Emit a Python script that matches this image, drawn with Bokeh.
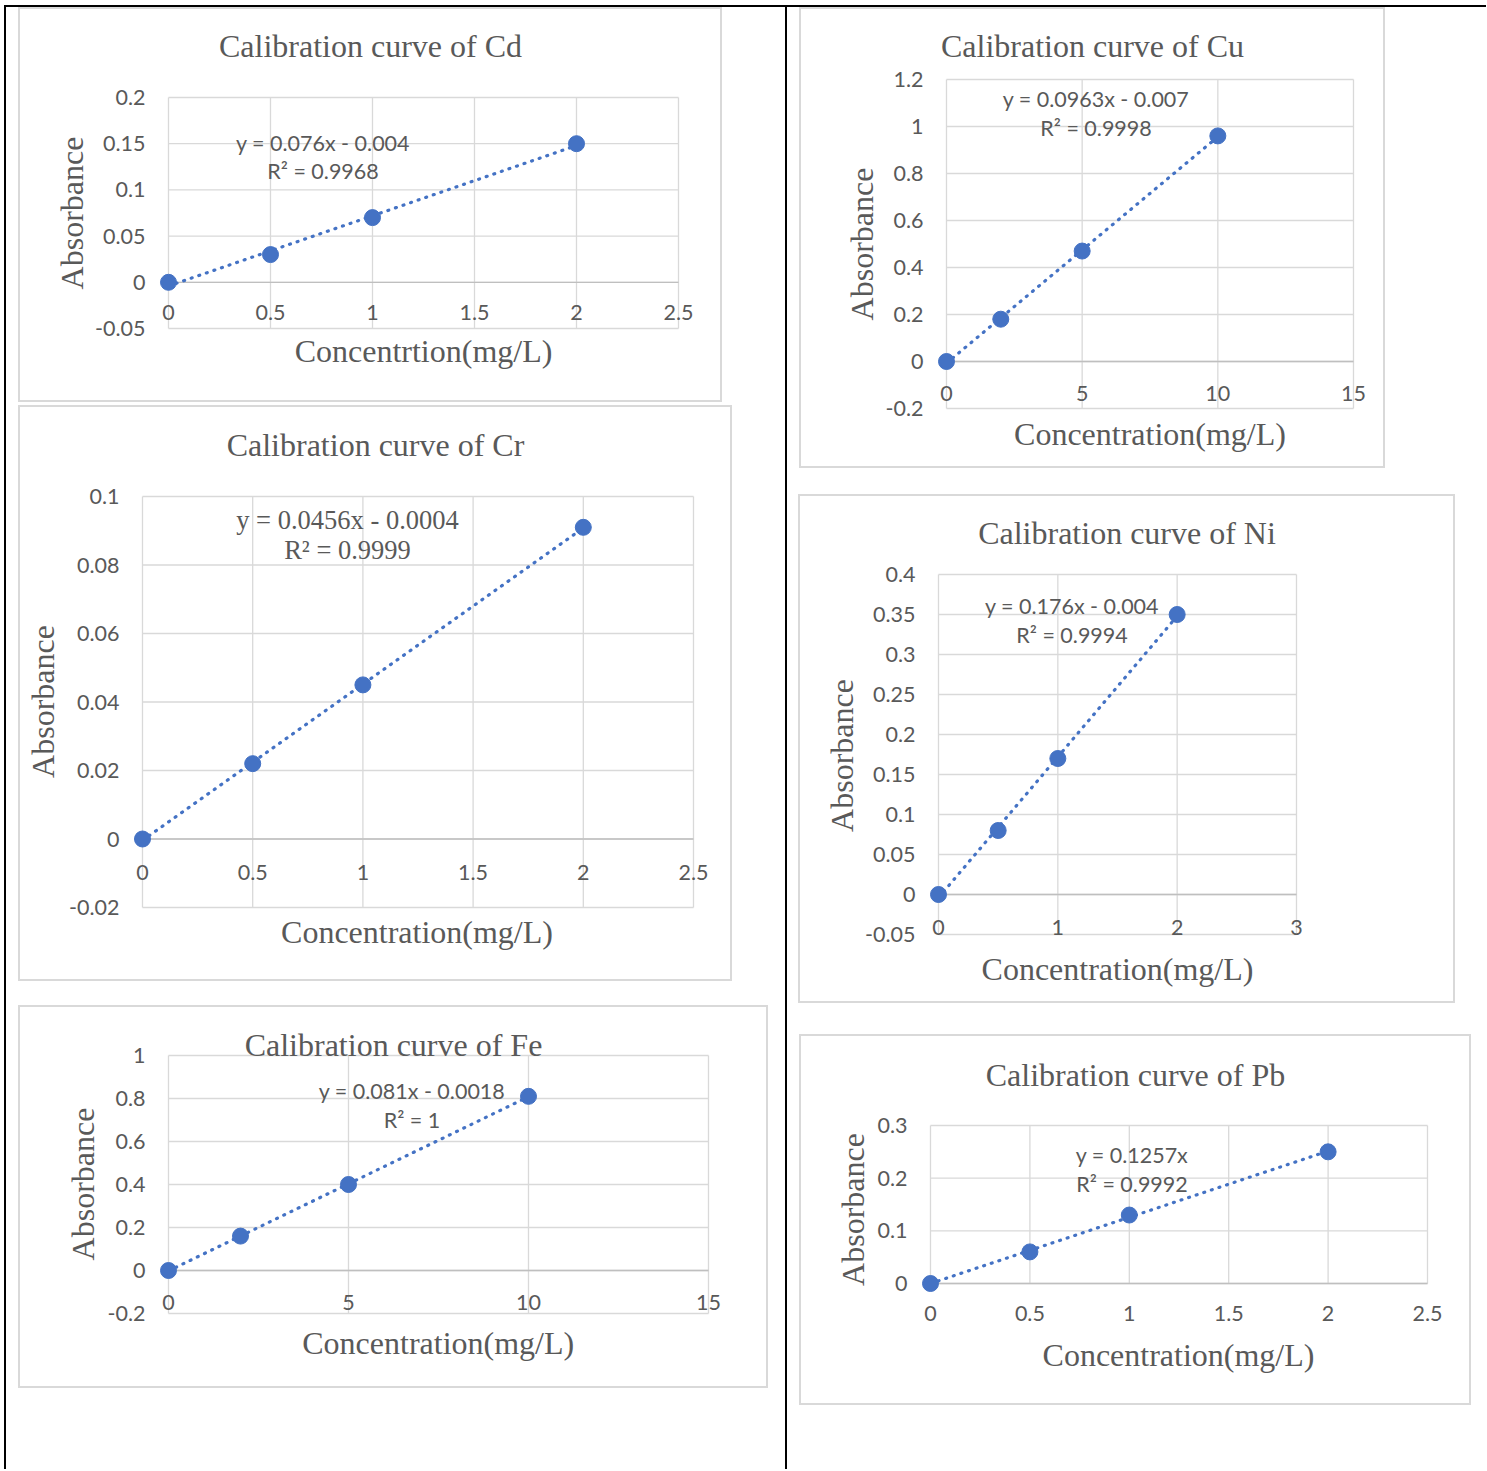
from bokeh.plotting import figure
from bokeh.models import Spacer, Label, FixedTicker, Range1d
from bokeh.layouts import column, row
from bokeh.embed import file_html
from bokeh.resources import INLINE

# ---------------- data ----------------
cd_conc = [0, 0.5, 1, 2]
cd_abs = [0, 0.03, 0.07, 0.15]
cd_fit = (0.076, -0.004)
cd_eq = ["y = 0.076x - 0.004", "R\u00b2 = 0.9968"]
cd_xticks = [0, 0.5, 1, 1.5, 2, 2.5]
cd_xlabels = ["0", "0.5", "1", "1.5", "2", "2.5"]
cd_yticks = [-0.05, 0, 0.05, 0.1, 0.15, 0.2]
cd_ylabels = ["-0.05", "0", "0.05", "0.1", "0.15", "0.2"]

cu_conc = [0, 2, 5, 10]
cu_abs = [0, 0.18, 0.47, 0.96]
cu_fit = (0.0963, -0.007)
cu_eq = ["y = 0.0963x - 0.007", "R\u00b2 = 0.9998"]
cu_xticks = [0, 5, 10, 15]
cu_xlabels = ["0", "5", "10", "15"]
cu_yticks = [-0.2, 0, 0.2, 0.4, 0.6, 0.8, 1, 1.2]
cu_ylabels = ["-0.2", "0", "0.2", "0.4", "0.6", "0.8", "1", "1.2"]

cr_conc = [0, 0.5, 1, 2]
cr_abs = [0, 0.022, 0.045, 0.091]
cr_fit = (0.0456, -0.0004)
cr_eq = ["y = 0.0456x - 0.0004", "R\u00b2 = 0.9999"]
cr_xticks = [0, 0.5, 1, 1.5, 2, 2.5]
cr_xlabels = ["0", "0.5", "1", "1.5", "2", "2.5"]
cr_yticks = [-0.02, 0, 0.02, 0.04, 0.06, 0.08, 0.1]
cr_ylabels = ["-0.02", "0", "0.02", "0.04", "0.06", "0.08", "0.1"]

ni_conc = [0, 0.5, 1, 2]
ni_abs = [0, 0.08, 0.17, 0.35]
ni_fit = (0.176, -0.004)
ni_eq = ["y = 0.176x - 0.004", "R\u00b2 = 0.9994"]
ni_xticks = [0, 1, 2, 3]
ni_xlabels = ["0", "1", "2", "3"]
ni_yticks = [-0.05, 0, 0.05, 0.1, 0.15, 0.2, 0.25, 0.3, 0.35, 0.4]
ni_ylabels = ["-0.05", "0", "0.05", "0.1", "0.15", "0.2", "0.25", "0.3", "0.35", "0.4"]

fe_conc = [0, 2, 5, 10]
fe_abs = [0, 0.16, 0.40, 0.81]
fe_fit = (0.081, -0.0018)
fe_eq = ["y = 0.081x - 0.0018", "R\u00b2 = 1"]
fe_xticks = [0, 5, 10, 15]
fe_xlabels = ["0", "5", "10", "15"]
fe_yticks = [-0.2, 0, 0.2, 0.4, 0.6, 0.8, 1]
fe_ylabels = ["-0.2", "0", "0.2", "0.4", "0.6", "0.8", "1"]

pb_conc = [0, 0.5, 1, 2]
pb_abs = [0, 0.06, 0.13, 0.25]
pb_fit = (0.1257, 0.0)
pb_eq = ["y = 0.1257x", "R\u00b2 = 0.9992"]
pb_xticks = [0, 0.5, 1, 1.5, 2, 2.5]
pb_xlabels = ["0", "0.5", "1", "1.5", "2", "2.5"]
pb_yticks = [0, 0.1, 0.2, 0.3]
pb_ylabels = ["0", "0.1", "0.2", "0.3"]

# ---------------- styles ----------------
BLUE = "#4472C4"
TXT = "#595959"
GRID = "#D9D9D9"
AXIS = "#BFBFBF"
SANS = "Lato"
SERIF = "Liberation Serif"
TICK_SIZE = "21.5px"


def chart(box, frame, xticks, xlabels, yticks, ylabels, xs, ys, fit, title,
          xtitle, eq, pos, xlab_std, eq_font=SANS, eq_size="21.5px"):
    """box / frame are pixel rectangles (left, top, right, bottom) on the page."""
    bl, bt, br, bb = box
    fl, ft, fr, fb = frame
    x0, x1 = xticks[0], xticks[-1]
    y0, y1 = yticks[0], yticks[-1]
    sx = (fr - fl) / (x1 - x0)
    sy = (fb - ft) / (y1 - y0)
    xs0 = x0 - (fl - bl) / sx
    xs1 = x1 + (br - fr) / sx
    ys0 = y0 - (bb - fb) / sy
    ys1 = y1 + (ft - bt) / sy

    def dx(px):
        return xs0 + (px - bl) / sx

    def dy(py):
        return ys0 + (bb - py) / sy

    p = figure(width=br - bl, height=bb - bt,
               x_range=Range1d(xs0, xs1), y_range=Range1d(ys0, ys1),
               output_backend="svg", toolbar_location=None, min_border=0,
               background_fill_color="white", border_fill_color="white")
    p.grid.visible = False
    p.outline_line_color = GRID
    p.outline_line_width = 3

    # plot-area grid, drawn from the tick lists
    nx, ny = len(xticks), len(yticks)
    p.segment(x0=xticks, y0=[y0] * nx, x1=xticks, y1=[y1] * nx,
              line_color=GRID, line_width=1.3)
    p.segment(x0=[x0] * ny, y0=yticks, x1=[x1] * ny, y1=yticks,
              line_color=GRID, line_width=1.3)
    zero = 0 if y0 < 0 else y0
    p.segment(x0=[x0], y0=[zero], x1=[x1], y1=[zero], line_color=AXIS, line_width=1.3)

    # x axis: labels sit under the zero line
    xa = p.xaxis[0]
    xa.fixed_location = zero
    xa.bounds = (x0, x1)
    xa.ticker = FixedTicker(ticks=xticks)
    xa.major_label_overrides = dict(zip(xticks, xlabels))
    xa.axis_line_color = None
    xa.major_tick_out = 0
    xa.major_tick_in = 0
    xa.minor_tick_out = 0
    xa.minor_tick_in = 0
    xa.major_label_standoff = xlab_std
    xa.major_label_text_font = SANS
    xa.major_label_text_font_size = TICK_SIZE
    xa.major_label_text_color = TXT

    ya = p.yaxis[0]
    ya.fixed_location = x0
    ya.bounds = (y0, y1)
    ya.ticker = FixedTicker(ticks=yticks)
    ya.major_label_overrides = dict(zip(yticks, ylabels))
    ya.axis_line_color = None
    ya.major_tick_out = 0
    ya.major_tick_in = 0
    ya.minor_tick_out = 0
    ya.minor_tick_in = 0
    ya.major_label_standoff = 23
    ya.major_label_text_font = SANS
    ya.major_label_text_font_size = TICK_SIZE
    ya.major_label_text_color = TXT

    # trendline (from the displayed fit) and points
    m, b = fit
    tx = [min(xs), max(xs)]
    ty = [m * t + b for t in tx]
    p.line(tx, ty, line_color=BLUE, line_width=3.2, line_dash="1 7", line_cap="round")
    p.scatter(xs, ys, marker="circle", size=16, fill_color=BLUE, line_color=BLUE)

    # texts (positions are visual centres on the page)
    def lab(px, py, text, font, size, angle=0):
        p.add_layout(Label(x=dx(px), y=dy(py), text=text, text_font=font,
                           text_font_size=size, text_color=TXT, text_align="center",
                           text_baseline="middle", angle=angle, angle_units="deg"))

    lab(*pos["title"], title, SERIF, "32px")
    lab(*pos["ytitle"], "Absorbance", SERIF, "32px", angle=90)
    lab(*pos["xtitle"], xtitle, SERIF, "32px")
    ecx, e1, e2 = pos["eq"]
    lab(ecx, e1, eq[0], eq_font, eq_size)
    lab(ecx, e2, eq[1], eq_font, eq_size)
    return p


cd = chart((18, 7, 722, 402), (168, 97, 678, 328), cd_xticks, cd_xlabels, cd_yticks, cd_ylabels,
           cd_conc, cd_abs, cd_fit, "Calibration curve of Cd", "Concentrtion(mg/L)", cd_eq,
           dict(title=(370, 45.5), ytitle=(71, 212.5), xtitle=(423, 350.5), eq=(322.5, 142.5, 170.8)),
           23)
cr = chart((18, 405, 732, 981), (142, 496, 693, 907), cr_xticks, cr_xlabels, cr_yticks, cr_ylabels,
           cr_conc, cr_abs, cr_fit, "Calibration curve of Cr", "Concentration(mg/L)", cr_eq,
           dict(title=(375, 444.5), ytitle=(42.8, 701), xtitle=(416.5, 931.2), eq=(347, 519.5, 549.5)),
           26, eq_font=SERIF, eq_size="26.5px")
fe = chart((18, 1005, 768, 1388), (168, 1055, 708, 1313), fe_xticks, fe_xlabels, fe_yticks, fe_ylabels,
           fe_conc, fe_abs, fe_fit, "Calibration curve of Fe", "Concentration(mg/L)", fe_eq,
           dict(title=(393, 1044.5), ytitle=(82.8, 1183.5), xtitle=(437.7, 1342.8), eq=(411.5, 1090.2, 1119.2)),
           24)
cu = chart((799, 7, 1385, 468), (946, 79, 1353, 408), cu_xticks, cu_xlabels, cu_yticks, cu_ylabels,
           cu_conc, cu_abs, cu_fit, "Calibration curve of Cu", "Concentration(mg/L)", cu_eq,
           dict(title=(1092, 45.5), ytitle=(861.2, 243.5), xtitle=(1149.5, 433.5), eq=(1095.5, 98.5, 127.5)),
           24)
ni = chart((798, 494, 1455, 1003), (938, 574, 1296, 934), ni_xticks, ni_xlabels, ni_yticks, ni_ylabels,
           ni_conc, ni_abs, ni_fit, "Calibration curve of Ni", "Concentration(mg/L)", ni_eq,
           dict(title=(1126.5, 532.8), ytitle=(841.2, 755), xtitle=(1117, 968), eq=(1071.5, 605.2, 634.8)),
           25)
pb = chart((799, 1034, 1471, 1405), (930, 1125, 1427, 1283), pb_xticks, pb_xlabels, pb_yticks, pb_ylabels,
           pb_conc, pb_abs, pb_fit, "Calibration curve of Pb", "Concentration(mg/L)", pb_eq,
           dict(title=(1135, 1074.5), ytitle=(852.5, 1209), xtitle=(1178, 1354.5), eq=(1131.5, 1154.2, 1183.2)),
           22)

BLACK = {"background-color": "#000000"}


def gap(w=1, h=1):
    return Spacer(width=w, height=h)


leftcol = column(
    row(gap(12), cd),
    gap(h=3),
    row(gap(12), cr),
    gap(h=24),
    row(gap(12), fe),
    gap(w=779, h=1),
)
rightcol = column(
    row(gap(12), cu),
    gap(h=26),
    row(gap(11), ni),
    gap(h=31),
    row(gap(12), pb),
    gap(w=699, h=1),
)

layout = column(
    gap(w=1486, h=5),
    row(gap(4, 2), Spacer(width=1482, height=2, styles=BLACK)),
    row(
        gap(4, 1462),
        Spacer(width=2, height=1462, styles=BLACK),
        leftcol,
        Spacer(width=2, height=1462, styles=BLACK),
        rightcol,
    ),
)

open("out.html", "w").write(file_html(layout, INLINE))
